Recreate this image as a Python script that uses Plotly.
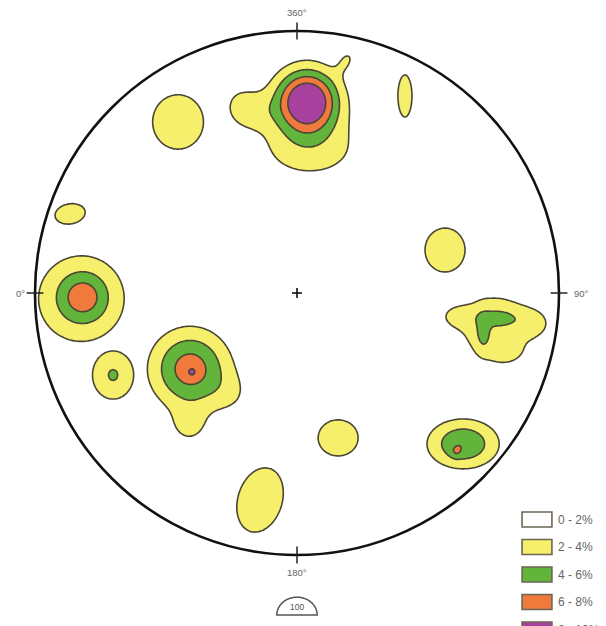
import numpy as np
import plotly.graph_objects as go

# ---- data: pole-density clusters on the net (net radius = 1) ----
# each row: cluster id, centre x, centre y, peak density (%), spread x', spread y', tilt (deg)
cluster_id = [1, 1, 1, 1, 1,
              2, 3, 4,
              5, 5, 6,
              7, 7, 7, 7, 7, 7,
              8,
              9, 9, 9, 9,
              10, 11, 11, 12]
cluster_x = [0.038, 0.050, -0.218, -0.149, 0.190,
             -0.454, 0.412, -0.866,
             -0.817, -0.828, 0.565,
             0.763, 0.710, 0.756, 0.901, 0.794, 0.603,
             -0.702,
             -0.408, -0.401, -0.248, -0.412,
             0.157, 0.634, 0.607, -0.141]
cluster_y = [0.733, 0.546, 0.714, 0.691, 0.890,
             0.653, 0.752, 0.302,
             -0.015, -0.027, 0.164,
             -0.095, -0.149, -0.126, -0.115, -0.225, -0.088,
             -0.313,
             -0.290, -0.302, -0.389, -0.508,
             -0.553, -0.576, -0.607, -0.790]
cluster_peak = [11.0, 2.8, 2.2, 1.4, 1.9,
                3.2, 2.6, 2.6,
                4.5, 2.9, 2.8,
                2.5, 2.5, 2.9, 1.5, 1.2, 1.2,
                4.15,
                7.0, 1.6, 1.3, 2.2,
                2.8, 5.85, 1.3, 2.8]
cluster_sx = [0.084, 0.153, 0.053, 0.053, 0.040,
              0.100, 0.037, 0.080,
              0.069, 0.160, 0.093,
              0.053, 0.019, 0.137, 0.050, 0.046, 0.046,
              0.065,
              0.103, 0.013, 0.061, 0.053,
              0.093, 0.094, 0.015, 0.153]
cluster_sy = [0.084, 0.092, 0.061, 0.053, 0.025,
              0.107, 0.111, 0.053,
              0.069, 0.160, 0.102,
              0.023, 0.046, 0.122, 0.038, 0.031, 0.031,
              0.076,
              0.103, 0.013, 0.061, 0.053,
              0.084, 0.065, 0.015, 0.103]
cluster_tilt = [0, 0, 0, 0, 60,
                0, 0, 10,
                0, 0, 0,
                0, 0, 0, 0, 0, 0,
                0,
                0, 0, 0, 0,
                0, 0, 0, 73]

contour_levels = [2, 4, 6, 8]
legend_labels = ["0 - 2%", "2 - 4%", "4 - 6%", "6 - 8%", "8 - 10%"]
band_colors = ["#ffffff", "#f6ef6c", "#62b43a", "#ef7a3c", "#a8409e"]
direction_labels = ["360°", "90°", "180°", "0°"]
stereonet_scale = "100"

# ---- density grid: each cluster summed, clusters combined by maximum ----
g = np.linspace(-1.03, 1.03, 400)
X, Y = np.meshgrid(g, g)
fields = {}
for k, cx, cy, a, sx, sy, t in zip(cluster_id, cluster_x, cluster_y, cluster_peak,
                                   cluster_sx, cluster_sy, cluster_tilt):
    th = np.radians(t)
    dx, dy = X - cx, Y - cy
    xr = dx * np.cos(th) + dy * np.sin(th)
    yr = -dx * np.sin(th) + dy * np.cos(th)
    fields[k] = fields.get(k, 0) + a * np.exp(-0.5 * ((xr / sx) ** 2 + (yr / sy) ** 2))
Z = np.max(np.stack(list(fields.values())), axis=0)

step = contour_levels[1] - contour_levels[0]
cs = []
n = len(band_colors)
for i, c in enumerate(band_colors):
    lo = max(0.0, (i - 0.5) / (n - 1))
    hi = min(1.0, (i + 0.5) / (n - 1))
    cs.append([lo, c])
    cs.append([hi, c])

fig = go.Figure()
fig.add_trace(go.Contour(
    x=g, y=g, z=Z,
    contours=dict(start=contour_levels[0], end=contour_levels[-1], size=step, coloring="fill"),
    colorscale=cs, zauto=False,
    zmin=contour_levels[0] - step / 2, zmax=contour_levels[-1] + step / 2,
    line=dict(color="#4a4535", width=1.6),
    showscale=False, hoverinfo="skip",
))

# ---- decorations ----
shapes = []
ang = np.linspace(0, 2 * np.pi, 721)
hole = " ".join(f"L{np.cos(a):.5f},{np.sin(a):.5f}" for a in ang[1:])
mask = f"M-3,-3 L3,-3 L3,3 L-3,3 Z M1,0 {hole} Z"
shapes.append(dict(type="path", path=mask, xref="x", yref="y", fillcolor="white",
                   fillrule="evenodd", line=dict(width=0), layer="above"))
shapes.append(dict(type="circle", xref="x", yref="y", x0=-1, y0=-1, x1=1, y1=1,
                   line=dict(color="#111111", width=2.6), layer="above"))
tk = 0.032
for (x0, y0, x1, y1) in [(0, 1 - tk, 0, 1 + tk), (0, -1 - tk, 0, -1 + tk),
                         (-1 - tk, 0, -1 + tk, 0), (1 - tk, 0, 1 + tk, 0)]:
    shapes.append(dict(type="line", xref="x", yref="y", x0=x0, y0=y0, x1=x1, y1=y1,
                       line=dict(color="#222222", width=1.5), layer="above"))
cc = 0.019
shapes.append(dict(type="line", xref="x", yref="y", x0=-cc, y0=0, x1=cc, y1=0,
                   line=dict(color="#111111", width=1.6), layer="above"))
shapes.append(dict(type="line", xref="x", yref="y", x0=0, y0=-cc, x1=0, y1=cc,
                   line=dict(color="#111111", width=1.6), layer="above"))

# scale dome
dome_cx, dome_base, dome_rx, dome_ry = 0.0, -1.229, 0.077, 0.068
t = np.linspace(np.pi, 0, 60)
dome = f"M{dome_cx - dome_rx:.4f},{dome_base:.4f} " + " ".join(
    f"L{dome_cx + dome_rx * np.cos(a):.4f},{dome_base + dome_ry * np.sin(a):.4f}" for a in t) + " Z"
shapes.append(dict(type="path", path=dome, xref="x", yref="y", fillcolor="white",
                   line=dict(color="#555555", width=1.5), layer="above"))

# legend boxes
box_x0, box_x1 = 0.859, 0.973
box_top0, box_gap, box_h = -0.836, 0.105, 0.057
annotations = []
for i, (lab, col) in enumerate(zip(legend_labels, band_colors)):
    top = box_top0 - i * box_gap
    shapes.append(dict(type="rect", xref="x", yref="y", x0=box_x0, x1=box_x1,
                       y0=top - box_h, y1=top, fillcolor=col,
                       line=dict(color="#6a6656", width=1.6), layer="above"))
    annotations.append(dict(x=0.99, y=top - box_h / 2, xref="x", yref="y", text=lab,
                            showarrow=False, xanchor="left", yanchor="middle",
                            font=dict(size=12, color="#666666", family="Liberation Sans, Arial")))

lab_font = dict(size=9.5, color="#666666", family="Liberation Sans, Arial")
annotations += [
    dict(x=0, y=1.07, text=direction_labels[0], xanchor="center", yanchor="middle"),
    dict(x=1.05, y=0, text=direction_labels[1], xanchor="left", yanchor="middle"),
    dict(x=0, y=-1.066, text=direction_labels[2], xanchor="center", yanchor="middle"),
    dict(x=-1.031, y=0, text=direction_labels[3], xanchor="right", yanchor="middle"),
    dict(x=0, y=-1.198, text=stereonet_scale, xanchor="center", yanchor="middle",
         font=dict(size=8.5, color="#555555", family="Liberation Sans, Arial")),
]
for a in annotations[-5:]:
    a.update(xref="x", yref="y", showarrow=False)
    a.setdefault("font", lab_font)

# page body adds an 8px offset; net centre sits at (297, 293) on the page
W, H = 606, 626
R, CX, CY = 262, 289, 285
fig.update_layout(
    width=W, height=H, margin=dict(l=0, r=0, t=0, b=0),
    paper_bgcolor="white", plot_bgcolor="white",
    xaxis=dict(range=[-CX / R, (W - CX) / R], visible=False, fixedrange=True),
    yaxis=dict(range=[(CY - H) / R, CY / R], visible=False, fixedrange=True),
    shapes=shapes, annotations=annotations, showlegend=False,
)
fig.write_html("out.html")
